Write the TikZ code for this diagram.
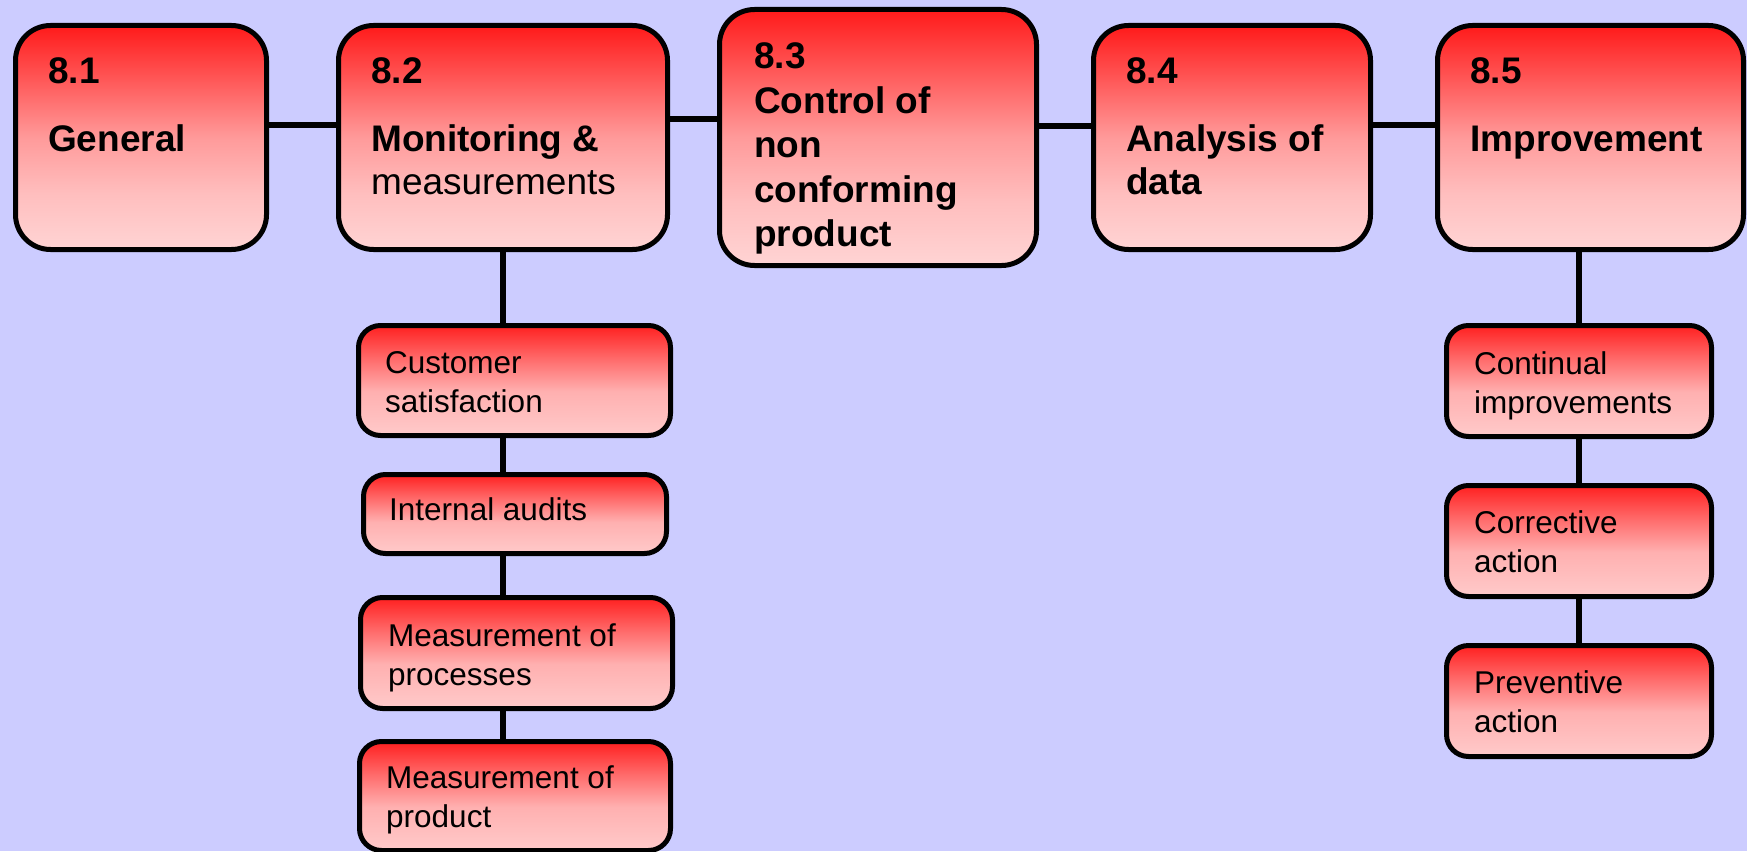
\documentclass[tikz,border=0pt]{standalone}
\usepackage{fontspec}
\setmainfont{Liberation Sans}
\definecolor{bgc}{HTML}{CCCCFF}
\definecolor{mtop}{HTML}{FF1A1A}
\definecolor{mq1}{HTML}{FF5A5A}
\definecolor{mq2}{HTML}{FF9A9A}
\definecolor{mq3}{HTML}{FFBEBE}
\definecolor{mlow}{HTML}{FFD4D4}
\definecolor{stop}{HTML}{FF2020}
\definecolor{sq1}{HTML}{FF6A6A}
\definecolor{sq2}{HTML}{FFB0B0}
\definecolor{slow}{HTML}{FFCACA}
\pgfdeclareverticalshading{mainshade}{100bp}{color(0bp)=(mlow); color(25bp)=(mlow); color(37.5bp)=(mq3); color(50bp)=(mq2); color(62.5bp)=(mq1); color(75bp)=(mtop); color(100bp)=(mtop)}
\pgfdeclareverticalshading{subshade}{100bp}{color(0bp)=(slow); color(25bp)=(slow); color(45bp)=(sq2); color(60bp)=(sq1); color(75bp)=(stop); color(100bp)=(stop)}
\newcommand\tl[2]{\vtop{\baselineskip=#1\lineskiplimit=-100pt\relax #2}}
\begin{document}
\begin{tikzpicture}[x=1pt,y=-1pt,
  mainbox/.style={draw=black, line width=5pt, rounded corners=35pt, shading=mainshade, inner sep=0pt},
  subbox/.style={draw=black, line width=5pt, rounded corners=22pt, shading=subshade, inner sep=0pt},
  link/.style={draw=black, line width=5.5pt},
  numtxt/.style={anchor=base west, inner sep=0pt, font=\fontsize{37}{43}\selectfont\bfseries},
  titletxt/.style={anchor=base west, inner sep=0pt, font=\fontsize{37}{43}\selectfont\bfseries},
  plaintxt/.style={anchor=base west, inner sep=0pt, font=\fontsize{37}{43}\selectfont},
  subtxt/.style={anchor=base west, inner sep=0pt, font=\fontsize{31.5}{39.5}\selectfont}]
\fill[bgc] (0,0) rectangle (1747,851);
\useasboundingbox (0,0) rectangle (1747,851);
% main boxes
\node[mainbox, minimum width=251pt, minimum height=224pt] (b81) at (141,137.5) {};
\node[mainbox, minimum width=329pt, minimum height=224pt] (b82) at (503,137.5) {};
\node[mainbox, minimum width=317pt, minimum height=256pt] (b83) at (878,137.5) {};
\node[mainbox, minimum width=277pt, minimum height=224pt] (b84) at (1232,137.5) {};
\node[mainbox, minimum width=306pt, minimum height=224pt] (b85) at (1590.5,137.5) {};
% sub boxes left
\node[subbox, minimum width=312pt, minimum height=110pt] (cs) at (514.5,380.5) {};
\node[subbox, minimum width=303pt, minimum height=79pt] (ia) at (515,514) {};
\node[subbox, minimum width=312pt, minimum height=111pt] (mp) at (516.5,653) {};
\node[subbox, minimum width=311pt, minimum height=109pt] (mpr) at (515,796) {};
% sub boxes right
\node[subbox, minimum width=265pt, minimum height=111pt] (ci) at (1579,381) {};
\node[subbox, minimum width=265pt, minimum height=111pt] (ca) at (1579,541) {};
\node[subbox, minimum width=265pt, minimum height=111pt] (pa) at (1579,701) {};
% connectors
\draw[link] ([yshift=12.5pt]b81.east) -- ([yshift=12.5pt]b82.west);
\draw[link] ([yshift=18.5pt]b82.east) -- ([yshift=18.5pt]b83.west);
\draw[link] ([yshift=11.5pt]b83.east) -- ([yshift=11.5pt]b84.west);
\draw[link] ([yshift=12.5pt]b84.east) -- ([yshift=12.5pt]b85.west);
\draw[link] (b82.south) -- (b82.south |- cs.north);
\draw[link] (cs.south -| b82.south) -- (ia.north -| b82.south);
\draw[link] (ia.south -| b82.south) -- (mp.north -| b82.south);
\draw[link] (mp.south -| b82.south) -- (mpr.north -| b82.south);
\draw[link] (ci.north |- b85.south) -- (ci.north);
\draw[link] (ci.south) -- (ca.north);
\draw[link] (ca.south) -- (pa.north);
% texts
\node[numtxt] (n81) at (48,84) {8.1};
\node[titletxt] (t81) at (48,151) {\tl{43pt}{\hbox{General}}};
\node[numtxt] (n82) at (371,84) {8.2};
\node[plaintxt] (t82) at (371,151) {\tl{43pt}{\hbox{\bfseries Monitoring \&}\hbox{measurements}}};
\node[numtxt] (n83) at (754,69) {8.3};
\node[titletxt] (t83) at (754,113) {\tl{44.6pt}{\hbox{Control of}\hbox{non}\hbox{conforming}\hbox{product}}};
\node[numtxt] (n84) at (1126,84) {8.4};
\node[titletxt] (t84) at (1126,151) {\tl{43pt}{\hbox{Analysis of}\hbox{data}}};
\node[numtxt] (n85) at (1470,84) {8.5};
\node[titletxt] (t85) at (1470,151) {\tl{43pt}{\hbox{Improvement}}};
\node[subtxt] (tcs) at (385,373) {\tl{39.5pt}{\hbox{Customer}\hbox{satisfaction}}};
\node[subtxt] (tia) at (389,520) {\tl{39.5pt}{\hbox{Internal audits}}};
\node[subtxt] (tmp) at (388,646) {\tl{39.5pt}{\hbox{Measurement of}\hbox{processes}}};
\node[subtxt] (tmpr) at (386,788) {\tl{39.5pt}{\hbox{Measurement of}\hbox{product}}};
\node[subtxt] (tci) at (1474,374) {\tl{39.5pt}{\hbox{Continual}\hbox{improvements}}};
\node[subtxt] (tca) at (1474,533) {\tl{39.5pt}{\hbox{Corrective}\hbox{action}}};
\node[subtxt] (tpa) at (1474,693) {\tl{39.5pt}{\hbox{Preventive}\hbox{action}}};
\end{tikzpicture}
\end{document}
